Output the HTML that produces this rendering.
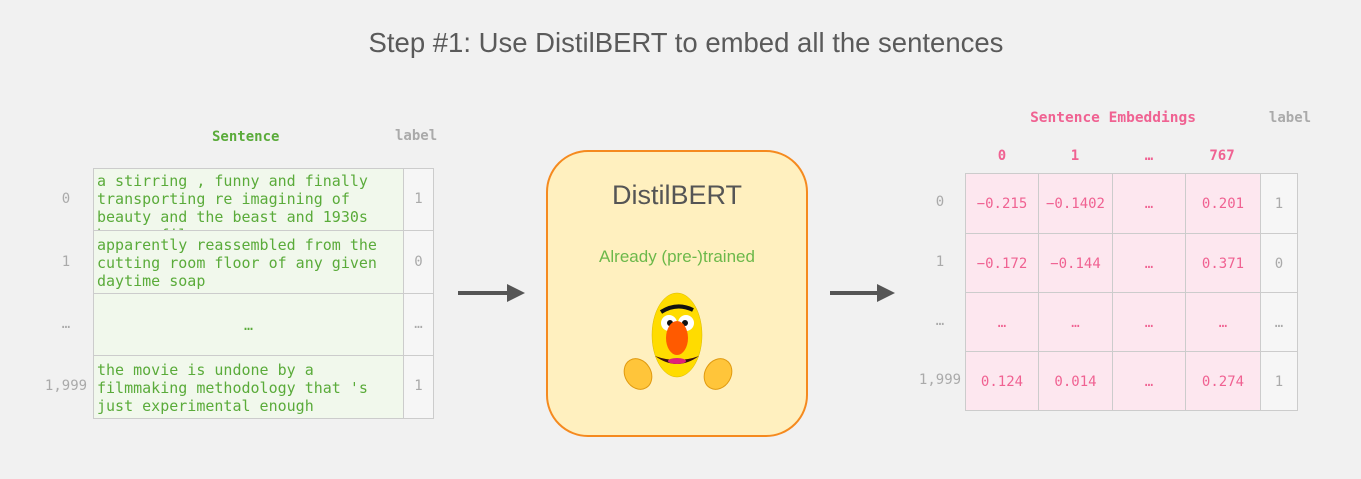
<!DOCTYPE html>
<html><head><style>
body{margin:0;width:1361px;height:479px;background:#f1f1f1;position:relative;overflow:hidden;font-family:"DejaVu Sans Mono","Liberation Mono",monospace;}
.a{position:absolute}
.t{font-family:"Liberation Sans",sans-serif;}
.c{position:absolute;box-sizing:border-box;border:1px solid #ccc;}
.g{color:#5aab3a;font-size:15px;line-height:18px;}
.p{color:#f06292;font-size:15px;text-align:center;}
.gr{color:#aaa;font-size:14px;text-align:center;}
</style></head><body>
<div class="a t" style="left:0;width:1372px;top:27px;text-align:center;font-size:27.5px;color:#5a5a5a">Step #1: Use DistilBERT to embed all the sentences</div>

<!-- left table -->
<div class="a g" style="left:212px;top:128px;font-weight:bold;font-size:14px">Sentence</div>
<div class="a gr" style="left:395px;top:128px;font-weight:bold">label</div>
<div class="c" style="left:93px;top:168px;width:311px;height:63px;background:#f1f8ec;overflow:hidden"><div class="g" style="padding:3px 3px">a stirring , funny and finally transporting re imagining of beauty and the beast and 1930s horror films</div></div>
<div class="c" style="left:93px;top:230px;width:311px;height:64px;background:#f1f8ec"><div class="g" style="padding:5px 3px">apparently reassembled from the cutting room floor of any given daytime soap</div></div>
<div class="c" style="left:93px;top:293px;width:311px;height:63px;background:#f1f8ec"><div class="g" style="text-align:center;padding-top:22px">…</div></div>
<div class="c" style="left:93px;top:355px;width:311px;height:64px;background:#f1f8ec"><div class="g" style="padding:5px 3px">the movie is undone by a filmmaking methodology that 's just experimental enough</div></div>
<div class="c" style="left:403px;top:168px;width:31px;height:63px;background:#f6f6f6"></div>
<div class="c" style="left:403px;top:230px;width:31px;height:64px;background:#f6f6f6"></div>
<div class="c" style="left:403px;top:293px;width:31px;height:63px;background:#f6f6f6"></div>
<div class="c" style="left:403px;top:355px;width:31px;height:64px;background:#f6f6f6"></div>
<div class="a gr" style="left:403px;width:31px;top:191px">1</div>
<div class="a gr" style="left:403px;width:31px;top:254px">0</div>
<div class="a gr" style="left:403px;width:31px;top:316px">…</div>
<div class="a gr" style="left:403px;width:31px;top:378px">1</div>
<div class="a gr" style="left:36px;width:60px;top:191px">0</div>
<div class="a gr" style="left:36px;width:60px;top:254px">1</div>
<div class="a gr" style="left:36px;width:60px;top:316px">…</div>
<div class="a gr" style="left:36px;width:60px;top:378px">1,999</div>

<!-- arrows -->
<svg class="a" style="left:0;top:0" width="1361" height="479">
<line x1="458" y1="293" x2="510" y2="293" stroke="#555" stroke-width="4"/>
<polygon points="507,284 525,293 507,302" fill="#555"/>
<line x1="830" y1="293" x2="880" y2="293" stroke="#555" stroke-width="4"/>
<polygon points="877,284 895,293 877,302" fill="#555"/>
</svg>

<!-- bert box -->
<div class="a" style="left:546px;top:150px;width:262px;height:287px;box-sizing:border-box;border:2px solid #f58a1f;border-radius:42px;background:#fff0bf"></div>
<div class="a t" style="left:546px;width:262px;top:180px;text-align:center;font-size:27px;color:#555">DistilBERT</div>
<div class="a t" style="left:546px;width:262px;top:247px;text-align:center;font-size:17px;color:#6cb84a">Already (pre-)trained</div>
<svg class="a" style="left:600px;top:290px" width="160" height="115">
<ellipse cx="77" cy="45" rx="25" ry="42" fill="#ffdc00" stroke="#d8b800" stroke-width="0.5"/>
<path d="M61,22 Q77,12 93,20" stroke="#111" stroke-width="4" fill="none"/>
<circle cx="69" cy="33" r="8" fill="#fff"/><circle cx="86" cy="33" r="8" fill="#fff"/>
<circle cx="70" cy="33" r="3" fill="#111"/><circle cx="85" cy="33" r="3" fill="#111"/>
<ellipse cx="77" cy="48" rx="11" ry="17" fill="#ff5a00"/>
<path d="M55,66 Q77,74 99,66 Q77,82 55,66Z" fill="#3a1010"/>
<ellipse cx="77" cy="71" rx="9" ry="3" fill="#e0207a"/>
<g fill="#ffc53a" stroke="#e09a10" stroke-width="1">
<ellipse cx="38" cy="84" rx="13" ry="16" transform="rotate(-30 38 84)"/>
<ellipse cx="118" cy="84" rx="13" ry="16" transform="rotate(30 118 84)"/>
</g>
</svg>

<!-- right table -->
<div class="a p" style="left:1023px;width:180px;top:110px;font-weight:bold;font-size:14.5px">Sentence Embeddings</div>
<div class="a gr" style="left:1260px;width:60px;top:110px;font-weight:bold">label</div>
<div class="a p" style="left:965px;width:74px;top:148px;font-weight:bold;font-size:14px">0</div>
<div class="a p" style="left:1038px;width:74px;top:148px;font-weight:bold;font-size:14px">1</div>
<div class="a p" style="left:1112px;width:74px;top:148px;font-weight:bold;font-size:14px">…</div>
<div class="a p" style="left:1185px;width:74px;top:148px;font-weight:bold;font-size:14px">767</div>

<div id="rt"></div>
<script>
var xs=[965,1038,1112,1185,1260,1297],ys=[173,233,292,351,410];
var d=[["−0.215","−0.1402","…","0.201","1"],["−0.172","−0.144","…","0.371","0"],["…","…","…","…","…"],["0.124","0.014","…","0.274","1"]];
var rl=["0","1","…","1,999"],h="";
for(var r=0;r<4;r++){h+='<div class="a gr" style="left:910px;width:60px;top:'+(ys[r]+(ys[r+1]-ys[r])/2-9)+'px">'+rl[r]+'</div>';
for(var c=0;c<5;c++){var w=xs[c+1]-xs[c]+1,hh=ys[r+1]-ys[r]+1;
h+='<div class="c '+(c<4?'p':'gr')+'" style="left:'+xs[c]+'px;top:'+ys[r]+'px;width:'+w+'px;height:'+hh+'px;background:'+(c<4?'#fde7ef':'#f6f6f6')+';line-height:'+hh+'px;font-size:14px">'+d[r][c]+'</div>';}}
document.getElementById('rt').innerHTML=h;
</script>
</body></html>
